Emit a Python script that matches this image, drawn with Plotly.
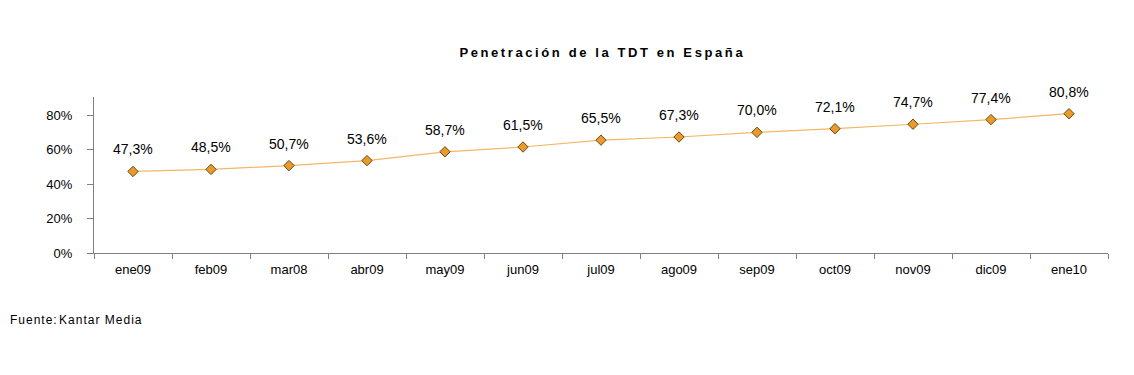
import plotly.graph_objects as go

months = ["ene09", "feb09", "mar08", "abr09", "may09", "jun09", "jul09",
          "ago09", "sep09", "oct09", "nov09", "dic09", "ene10"]
values = [47.3, 48.5, 50.7, 53.6, 58.7, 61.5, 65.5, 67.3, 70.0, 72.1, 74.7, 77.4, 80.8]
labels = [f"{v:.1f}%".replace(".", ",") for v in values]
y_ticks = [0, 20, 40, 60, 80]
y_tick_text = [f"{t}%" for t in y_ticks]

TS = "\u2009"
HS = "\u200a"
title_text = "Penetración de la TDT en España"
spaced_title = TS.join(list(title_text))
source_text = HS.join(list("Fuente:")) + TS + HS.join(list("Kantar Media"))

W, H = 1126, 367  # page body has an 8px margin

fig = go.Figure()
fig.add_trace(go.Scatter(
    x=months, y=values, mode="lines+markers",
    line=dict(color="#F2B866", width=1.2),
    marker=dict(symbol="diamond", size=8, color="#E89A2C",
                line=dict(color="#6B4A12", width=1)),
    hoverinfo="skip", showlegend=False,
))
for m, v, lab in zip(months, values, labels):
    fig.add_annotation(x=m, y=v, text=lab, showarrow=False, yshift=22,
                       font=dict(size=14, color="#000"))

fig.add_annotation(x=0, y=0, xref="paper", yref="paper", xanchor="left", yanchor="middle",
                   text=source_text, showarrow=False,
                   xshift=-86, yshift=-67, font=dict(size=12, color="#000"))

fig.update_layout(
    width=W, height=H,
    paper_bgcolor="white", plot_bgcolor="white",
    margin=dict(l=86, r=26, t=89, b=122),
    font=dict(family="Liberation Sans, Arial, sans-serif", color="#000"),
    title=dict(text="<b>" + spaced_title + "</b>",
               x=0.5, xref="paper", xanchor="center", y=1 - 44 / H, yanchor="middle",
               font=dict(size=13, color="#000")),
)
fig.update_xaxes(type="category", range=[-0.5, 12.5], showline=True, linecolor="#808080",
                 linewidth=1, ticks="outside", tickson="boundaries", ticklen=5,
                 tickcolor="#808080", showgrid=False, tickfont=dict(size=13),
                 ticklabelstandoff=4)
fig.update_yaxes(range=[0, 90.5], showline=True, linecolor="#808080", linewidth=1,
                 ticks="outside", ticklen=6, tickcolor="#808080", showgrid=False,
                 zeroline=False, tickvals=y_ticks, ticktext=y_tick_text,
                 tickfont=dict(size=13), ticklabelstandoff=12)

fig.write_html("out.html")
